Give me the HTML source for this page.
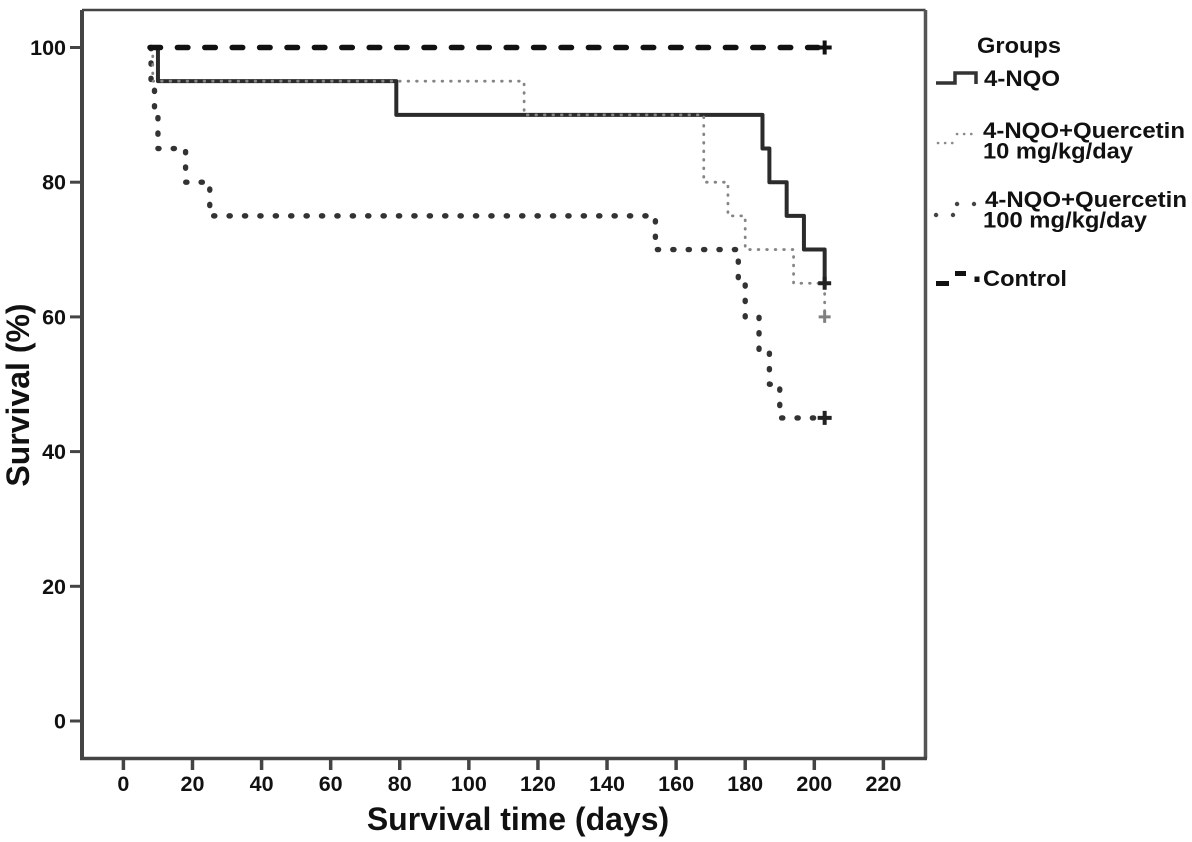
<!DOCTYPE html>
<html>
<head>
<meta charset="utf-8">
<title>Survival chart</title>
<style>
html,body{margin:0;padding:0;background:#fff;}
svg{display:block;filter:blur(0.35px);}
text{font-family:"Liberation Sans",sans-serif;font-weight:bold;fill:#111;}
</style>
</head>
<body>
<svg id="chart" width="1192" height="842" viewBox="0 0 1192 842" xmlns="http://www.w3.org/2000/svg">
<rect width="1192" height="842" fill="#fff"/>
<g id="axes"></g>
<g id="series"></g>
<text transform="translate(29,395) rotate(-90)" text-anchor="middle" font-size="32">Survival (%)</text>
<text x="518" y="830" text-anchor="middle" font-size="32">Survival time (days)</text>
<g>
<text x="977" y="53" font-size="22" textLength="84" lengthAdjust="spacingAndGlyphs">Groups</text>
<path d="M936 83H955V73H976V84" fill="none" stroke="#333" stroke-width="3.5"/>
<text x="984" y="86" font-size="22" textLength="76" lengthAdjust="spacingAndGlyphs">4-NQO</text>
<path d="M938 143H954M957 134H977" fill="none" stroke="#8a8a8a" stroke-width="2.6" stroke-dasharray="0.1 7" stroke-linecap="round"/>
<text x="983" y="138" font-size="22" textLength="202" lengthAdjust="spacingAndGlyphs">4-NQO+Quercetin</text>
<text x="983" y="158.500" font-size="22" textLength="150" lengthAdjust="spacingAndGlyphs">10 mg/kg/day</text>
<path d="M936 215H953M957 204H974" fill="none" stroke="#444" stroke-width="4.4" stroke-dasharray="0.1 16.9" stroke-linecap="round"/>
<text x="985" y="207" font-size="22" textLength="202" lengthAdjust="spacingAndGlyphs">4-NQO+Quercetin</text>
<text x="983" y="227.500" font-size="22" textLength="164" lengthAdjust="spacingAndGlyphs">100 mg/kg/day</text>
<path d="M936 283.500H949M955 273.500H966M977 276.500V282" fill="none" stroke="#111" stroke-width="5"/>
<text x="983" y="286" font-size="22" textLength="84" lengthAdjust="spacingAndGlyphs">Control</text>
</g>
</svg>
<script>
const xTicks = [0, 20, 40, 60, 80, 100, 120, 140, 160, 180, 200, 220];
const yTicks = [0, 20, 40, 60, 80, 100];
const controlTimes = [7.7, 203];
const controlSurvival = [100, 100];
const nqoTimes = [8, 10, 79, 185, 187, 192, 197, 203];
const nqoSurvival = [100, 95, 90, 85, 80, 75, 70, 65];
const q10Times = [8.500, 8.500, 116, 168, 175, 180, 194, 203];
const q10Survival = [100, 95, 90, 80, 75, 70, 65, 60];
const q100Times = [8, 8, 9, 10, 18, 25, 154, 178, 180, 184, 187, 190, 203];
const q100Survival = [100, 95, 90, 85, 80, 75, 70, 65, 60, 55, 50, 45, 45];

const NS = 'http://www.w3.org/2000/svg';
function xScale(v) { return 123.4 + v * 3.4545; }
function yScale(v) { return 721 - v * 6.735; }

const axesG = document.getElementById('axes');
const seriesG = document.getElementById('series');

function stepPath(times, values) {
  let d = 'M' + xScale(times[0]) + ' ' + yScale(values[0]);
  for (let i = 1; i < times.length; i++) {
    d += 'H' + xScale(times[i]) + 'V' + yScale(values[i]);
  }
  return d;
}

function drawLine(name, times, values, color, width, dash, cap) {
  const p = document.createElementNS(NS, 'path');
  
  
  p.setAttribute('d', stepPath(times, values));
  p.setAttribute('fill', 'none');
  p.setAttribute('stroke', color);
  p.setAttribute('stroke-width', width);
  p.setAttribute('stroke-linejoin', 'round');
  if (dash) p.setAttribute('stroke-dasharray', dash);
  if (cap) p.setAttribute('stroke-linecap', cap);
  seriesG.appendChild(p);
}

function drawMarker(name, times, values, color, width, size) {
  const cx = xScale(times[times.length - 1]);
  const cy = yScale(values[values.length - 1]);
  const m = document.createElementNS(NS, 'path');
  
  
  m.setAttribute('d', 'M' + (cx - size) + ' ' + cy + 'H' + (cx + size) + 'M' + cx + ' ' + (cy - size) + 'V' + (cy + size));
  m.setAttribute('fill', 'none');
  m.setAttribute('stroke', color);
  m.setAttribute('stroke-width', width);
  seriesG.appendChild(m);
}

/* frame */
const frame = document.createElementNS(NS, 'path');


frame.setAttribute('d', 'M82 10H925.5');
frame.setAttribute('stroke', '#444');
frame.setAttribute('stroke-width', '2.4');
frame.setAttribute('fill', 'none');
axesG.appendChild(frame);

const frameRight = document.createElementNS(NS, 'path');


frameRight.setAttribute('d', 'M925.5 10V758.5');
frameRight.setAttribute('stroke', '#555');
frameRight.setAttribute('stroke-width', '3.5');
frameRight.setAttribute('fill', 'none');
axesG.appendChild(frameRight);

const yAxisLine = document.createElementNS(NS, 'path');


yAxisLine.setAttribute('d', 'M82 10V758.5');
yAxisLine.setAttribute('stroke', '#444');
yAxisLine.setAttribute('stroke-width', '4');
yAxisLine.setAttribute('fill', 'none');
axesG.appendChild(yAxisLine);

const xAxisLine = document.createElementNS(NS, 'path');


xAxisLine.setAttribute('d', 'M80 758.5H927');
xAxisLine.setAttribute('stroke', '#444');
xAxisLine.setAttribute('stroke-width', '3.5');
xAxisLine.setAttribute('fill', 'none');
axesG.appendChild(xAxisLine);

xTicks.forEach(function (t) {
  const x = xScale(t);
  const l = document.createElementNS(NS, 'line');
  
  
  l.setAttribute('x1', x);
  l.setAttribute('x2', x);
  l.setAttribute('y1', 758);
  l.setAttribute('y2', 770);
  l.setAttribute('stroke', '#444');
  l.setAttribute('stroke-width', 3.5);
  axesG.appendChild(l);
  const txt = document.createElementNS(NS, 'text');
  
  
  txt.setAttribute('x', x);
  txt.setAttribute('y', 791);
  txt.setAttribute('text-anchor', 'middle');
  txt.setAttribute('font-size', '21.5');
  txt.textContent = t;
  axesG.appendChild(txt);
});

yTicks.forEach(function (t) {
  const y = yScale(t);
  const l = document.createElementNS(NS, 'line');
  
  
  l.setAttribute('x1', 70);
  l.setAttribute('x2', 82);
  l.setAttribute('y1', y);
  l.setAttribute('y2', y);
  l.setAttribute('stroke', '#444');
  l.setAttribute('stroke-width', 3);
  axesG.appendChild(l);
  const txt = document.createElementNS(NS, 'text');
  
  
  txt.setAttribute('x', 66);
  txt.setAttribute('y', y + 7.5);
  txt.setAttribute('text-anchor', 'end');
  txt.setAttribute('font-size', '21.5');
  txt.textContent = t;
  axesG.appendChild(txt);
});

drawLine('quercetin-100', q100Times, q100Survival, '#333', 5.4, '1.2 14.2', 'round');
drawLine('nqo', nqoTimes, nqoSurvival, '#2b2b2b', 4, null, null);
drawLine('quercetin-10', q10Times, q10Survival, '#858585', 2.8, '0.6 7.9', 'round');
drawLine('control', controlTimes, controlSurvival, '#111', 5.5, '10.5 16.9', 'round');
drawMarker('quercetin-10', q10Times, q10Survival, '#808080', 3, 6);
drawMarker('quercetin-100', q100Times, q100Survival, '#222', 4, 7);
drawMarker('nqo', nqoTimes, nqoSurvival, '#222', 4, 6.5);
drawMarker('control', controlTimes, controlSurvival, '#111', 4, 7);
</script>
</body>
</html>
